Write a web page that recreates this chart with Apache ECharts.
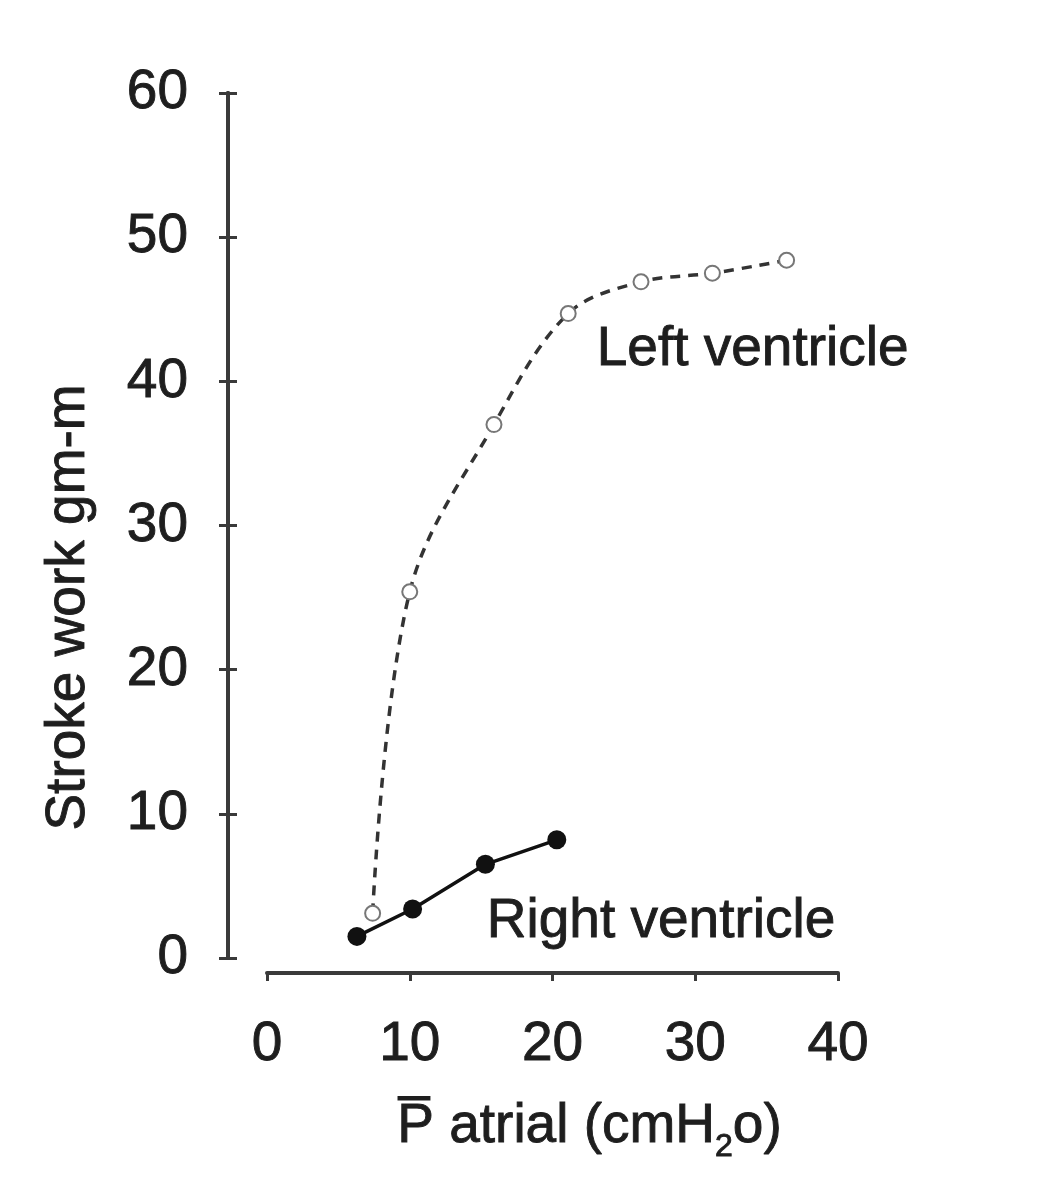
<!DOCTYPE html>
<html>
<head>
<meta charset="utf-8">
<script src="https://cdn.jsdelivr.net/npm/echarts@6/dist/echarts.min.js"></script>
<style>html,body{margin:0;padding:0;background:#fff}#c{width:1046px;height:1200px}</style>
</head>
<body>
<div id="c"></div>
<script>
// Data
const leftX = [7.4, 10.0, 15.9, 21.1, 26.2, 31.2, 36.4];
const leftY = [3.1, 25.4, 37.0, 44.7, 46.9, 47.5, 48.4];
const rightX = [6.3, 10.2, 15.3, 20.3];
const rightY = [1.5, 3.4, 6.5, 8.2];
const xTicks = [0, 10, 20, 30, 40];
const yTicks = [0, 10, 20, 30, 40, 50, 60];
const seriesNames = ['Left ventricle', 'Right ventricle'];
const labelAnchors = [[23.1, 42.2], [15.4, 2.5]];

const FONT = 'Liberation Sans, Arial, Helvetica, sans-serif';
const TXT = '#1e1e1e';
const AX = '#3a3a3a';
const FS = 55;
const bold = {textBorderColor: TXT, textBorderWidth: 0.9};

const chart = echarts.init(document.getElementById('c'), null, {renderer: 'canvas'});
const zip = (xs, ys) => xs.map((x, i) => [x, ys[i]]);

const GRID = {left: 267, right: 208, top: 93, bottom: 242};
const plotW = 1046 - GRID.left - GRID.right;

const yBase = {
  type: 'value', min: yTicks[0], max: yTicks[yTicks.length - 1], interval: 10,
  splitLine: {show: false},
  axisLine: {show: true, onZero: false, lineStyle: {color: AX, width: 4}}
};

chart.setOption({
  animation: false,
  backgroundColor: '#fff',
  grid: GRID,
  xAxis: {
    type: 'value', min: xTicks[0], max: xTicks[xTicks.length - 1], interval: 10,
    offset: 15, splitLine: {show: false},
    axisLine: {show: true, onZero: false, lineStyle: {color: AX, width: 4}},
    axisTick: {show: true, length: 8, lineStyle: {color: AX, width: 3}},
    axisLabel: Object.assign({fontSize: FS, color: TXT, fontFamily: FONT, margin: 44}, bold),
    name: '{a|P\u0305 atrial (cmH}{s|2}{a|o)}',
    nameLocation: 'middle', nameGap: 118,
    nameTextStyle: {
      fontFamily: FONT, color: TXT, padding: [0, 0, 0, 74],
      rich: {
        a: Object.assign({fontSize: FS, fontFamily: FONT, color: TXT}, bold),
        s: Object.assign({fontSize: 32, fontFamily: FONT, color: TXT, padding: [40, 0, 0, 0]}, bold)
      }
    }
  },
  yAxis: [
    Object.assign({}, yBase, {
      position: 'left', offset: 39,
      axisTick: {show: true, length: 9, lineStyle: {color: AX, width: 3}},
      axisLabel: Object.assign({fontSize: FS, color: TXT, fontFamily: FONT, margin: 40}, bold),
      name: 'Stroke work gm-m', nameLocation: 'middle', nameGap: 132,
      nameTextStyle: Object.assign({fontSize: FS, color: TXT, fontFamily: FONT, padding: [0, 164, 0, 0]}, bold)
    }),
    Object.assign({}, yBase, {
      position: 'right', offset: -(plotW + 39),
      axisTick: {show: true, length: 9, lineStyle: {color: AX, width: 3}},
      axisLabel: {show: false}
    })
  ],
  series: [
    {
      name: seriesNames[0], type: 'line', data: zip(leftX, leftY),
      smooth: 0.35, symbol: 'circle', symbolSize: 15,
      lineStyle: {color: '#333', width: 3.5, type: [10, 8]},
      itemStyle: {color: '#fff', borderColor: '#777', borderWidth: 2},
      z: 3,
      markPoint: {
        symbol: 'circle', symbolSize: 0,
        data: [{coord: labelAnchors[0], value: seriesNames[0]}],
        label: Object.assign({show: true, position: 'right', distance: 0, formatter: seriesNames[0],
          fontSize: FS, color: TXT, fontFamily: FONT}, bold)
      }
    },
    {
      name: seriesNames[1], type: 'line', data: zip(rightX, rightY),
      symbol: 'circle', symbolSize: 19,
      lineStyle: {color: '#111', width: 3.5},
      itemStyle: {color: '#111'},
      z: 4,
      markPoint: {
        symbol: 'circle', symbolSize: 0,
        data: [{coord: labelAnchors[1], value: seriesNames[1]}],
        label: Object.assign({show: true, position: 'right', distance: 0, formatter: seriesNames[1],
          fontSize: FS, color: TXT, fontFamily: FONT}, bold)
      }
    }
  ]
});
</script>
</body>
</html>
